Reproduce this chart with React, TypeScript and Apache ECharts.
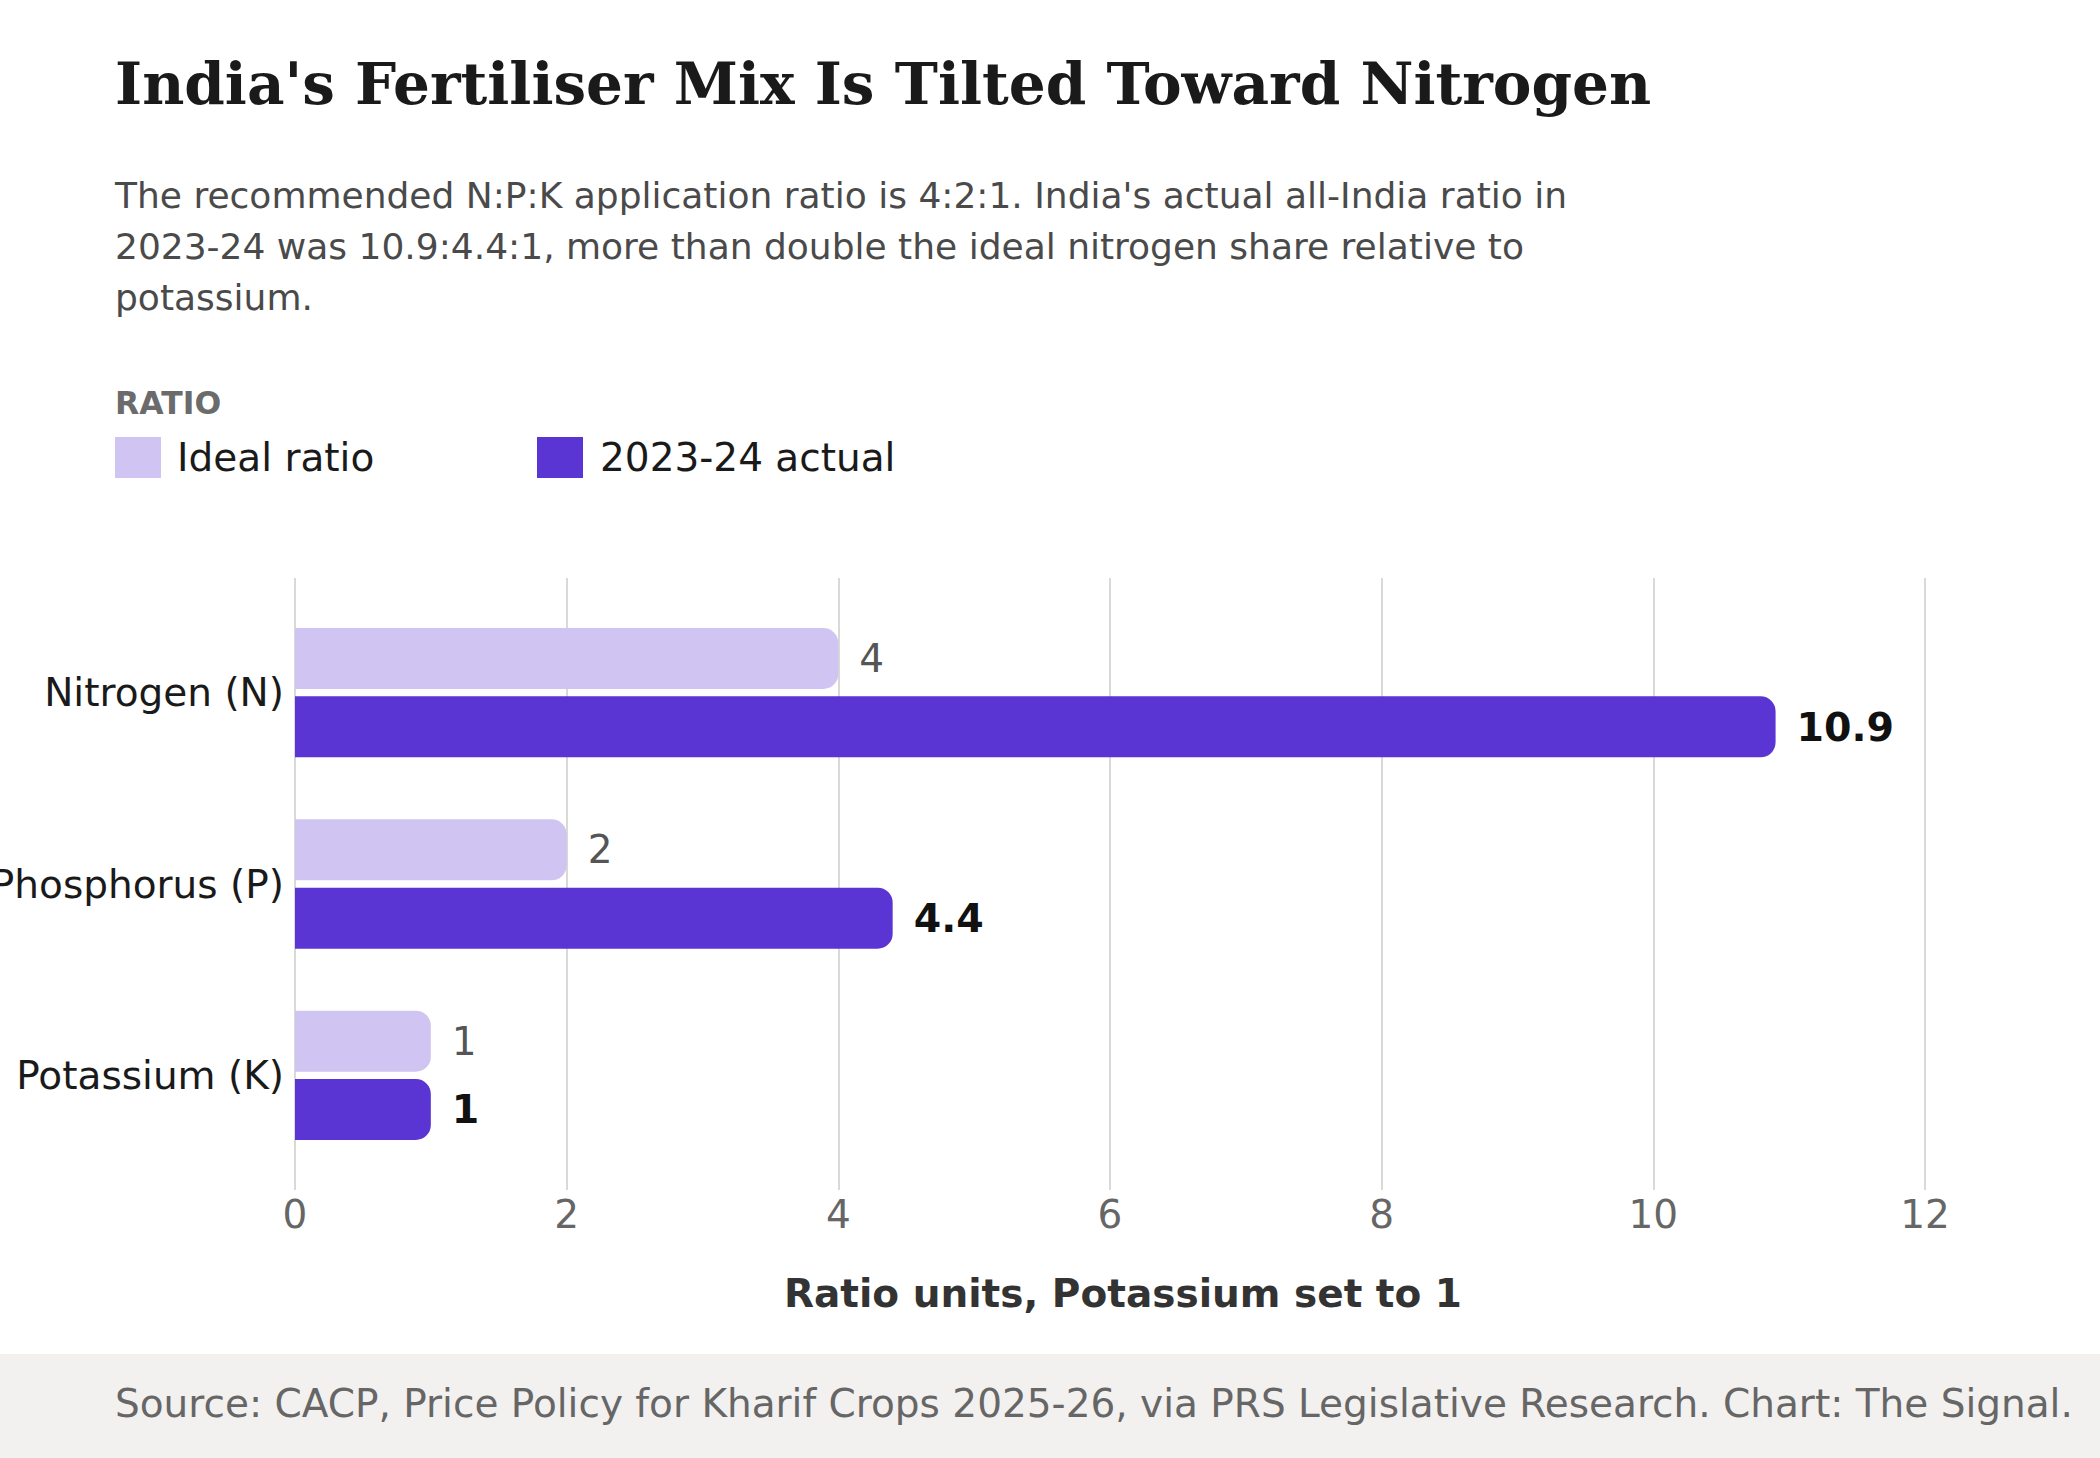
import { useEffect, useRef } from 'react';
import * as echarts from 'echarts';

const nutrients = ['Nitrogen (N)', 'Phosphorus (P)', 'Potassium (K)'];
const idealRatio = [4, 2, 1];
const actualRatio = [10.9, 4.4, 1];
const seriesNames = ['Ideal ratio', '2023-24 actual'];

const subtitleLines = [
  "The recommended N:P:K application ratio is 4:2:1. India's actual all-India ratio in",
  '2023-24 was 10.9:4.4:1, more than double the ideal nitrogen share relative to',
  'potassium.',
];

const SANS = "'DejaVu Sans', sans-serif";
const SERIF = "'DejaVu Serif', serif";
const BASE = 39;

export default function App() {
  const containerRef = useRef<HTMLDivElement>(null);

  useEffect(() => {
    if (!containerRef.current) return;
    const chart = echarts.init(containerRef.current, undefined, { renderer: 'svg' });

    const option: echarts.EChartsCoreOption = {
      animation: false,
      backgroundColor: '#ffffff',
      graphic: [
        {
          type: 'rect',
          shape: { x: 0, y: 1354, width: 2100, height: 104 },
          style: { fill: '#f2f1ef' },
          silent: true,
        },
        {
          type: 'text',
          x: 115,
          y: 84,
          style: {
            text: "India's Fertiliser Mix Is Tilted Toward Nitrogen",
            font: `bold 58px ${SERIF}`,
            fill: '#1a1a1a',
            verticalAlign: 'middle',
          },
        },
        {
          type: 'text',
          x: 115,
          y: 170,
          style: {
            text: subtitleLines.join('\n'),
            font: `36px ${SANS}`,
            lineHeight: 51,
            fill: '#4a4a4a',
            verticalAlign: 'top',
          },
        },
        {
          type: 'text',
          x: 115,
          y: 403,
          style: {
            text: 'RATIO',
            font: `bold 31.5px ${SANS}`,
            fill: '#6b6b6b',
            verticalAlign: 'middle',
          },
        },
        {
          type: 'text',
          x: 115,
          y: 1403,
          style: {
            text: 'Source: CACP, Price Policy for Kharif Crops 2025-26, via PRS Legislative Research. Chart: The Signal.',
            font: `${BASE}px ${SANS}`,
            fill: '#666666',
            verticalAlign: 'middle',
          },
        },
      ],
      legend: [
        {
          left: 115,
          top: 437,
          data: [seriesNames[0]],
          icon: 'rect',
          itemWidth: 46,
          itemHeight: 41,
          padding: 0,
          selectedMode: false,
          textStyle: { fontSize: BASE, fontFamily: SANS, color: '#1a1a1a', padding: [0, 0, 0, 11] },
        },
        {
          left: 537,
          top: 437,
          data: [seriesNames[1]],
          icon: 'rect',
          itemWidth: 46,
          itemHeight: 41,
          padding: 0,
          selectedMode: false,
          textStyle: { fontSize: BASE, fontFamily: SANS, color: '#1a1a1a', padding: [0, 0, 0, 12] },
        },
      ],
      grid: [
        { left: 295, width: 1630, top: 597, height: 574, containLabel: false, outerBoundsMode: 'none' },
        { left: 295, width: 1630, top: 578, height: 612, containLabel: false, outerBoundsMode: 'none' },
      ],
      xAxis: [
        {
          type: 'value',
          gridIndex: 0,
          min: 0,
          max: 12,
          interval: 2,
          show: false,
        },
        {
          type: 'value',
          gridIndex: 1,
          min: 0,
          max: 12,
          interval: 2,
          axisLine: { show: false },
          axisTick: { show: false },
          splitLine: { show: true, lineStyle: { color: '#d9d9d6', width: 2 } },
          axisLabel: { fontSize: BASE, fontFamily: SANS, color: '#666666', margin: 5 },
          name: 'Ratio units, Potassium set to 1',
          nameLocation: 'middle',
          nameGap: 84,
          nameTextStyle: {
            fontSize: BASE,
            fontWeight: 'bold',
            fontFamily: SANS,
            color: '#333333',
            padding: [0, 0, 0, 26],
          },
        },
      ],
      yAxis: [
        {
          type: 'category',
          gridIndex: 0,
          data: nutrients,
          inverse: true,
          axisLine: { show: false },
          axisTick: { show: false },
          splitLine: { show: false },
          axisLabel: { fontSize: BASE, fontFamily: SANS, color: '#1a1a1a', margin: 11 },
        },
        {
          type: 'value',
          gridIndex: 1,
          min: 0,
          max: 1,
          show: false,
        },
      ],
      series: [
        {
          name: seriesNames[0],
          type: 'bar',
          xAxisIndex: 0,
          yAxisIndex: 0,
          data: idealRatio,
          barWidth: 61,
          barGap: '12%',
          itemStyle: { color: '#d0c5f2', borderRadius: [0, 15, 15, 0] },
          label: {
            show: true,
            position: 'right',
            distance: 21,
            fontSize: BASE,
            fontFamily: SANS,
            color: '#555555',
          },
        },
        {
          name: seriesNames[1],
          type: 'bar',
          xAxisIndex: 0,
          yAxisIndex: 0,
          data: actualRatio,
          barWidth: 61,
          barGap: '12%',
          itemStyle: { color: '#5a35d4', borderRadius: [0, 15, 15, 0] },
          label: {
            show: true,
            position: 'right',
            distance: 21,
            fontSize: 39.5,
            fontWeight: 'bold',
            fontFamily: SANS,
            color: '#111111',
          },
        },
      ],
    };

    chart.setOption(option);

    return () => {
      chart.dispose();
    };
  }, []);

  return (
    <div
      ref={containerRef}
      style={{ position: 'absolute', left: 0, top: 0, width: '2100px', height: '1458px' }}
    />
  );
}
